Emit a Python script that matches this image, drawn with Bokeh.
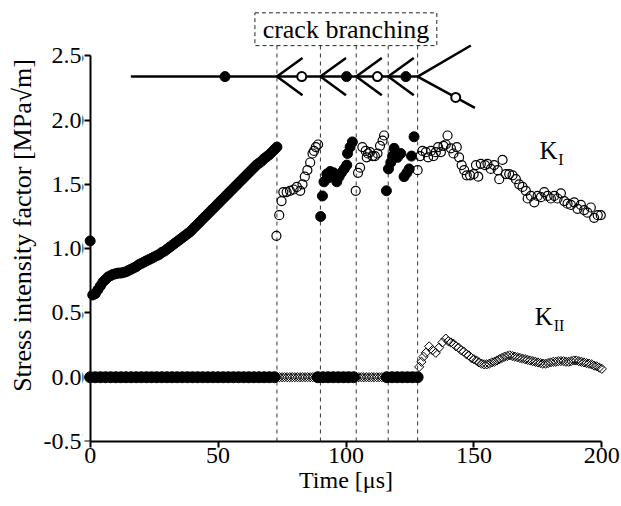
from bokeh.plotting import figure
from bokeh.models import Range1d, FixedTicker, NumeralTickFormatter, Label, LinearAxis
from bokeh.core.properties import value
from bokeh.embed import file_html
from bokeh.resources import INLINE

FONT = "Liberation Serif"

# ---------------- data ----------------
# K_I, filled phase before first branching (0-73 us)
ki_a_t = [0, 1, 2, 3, 4, 5, 6, 7, 8, 9, 10, 11, 12, 13, 14, 15, 16, 17, 18, 19,
          20, 21, 22, 23, 24, 25, 26, 27, 28, 29, 30, 31, 32, 33, 34, 35, 36, 37, 38, 39,
          40, 41, 42, 43, 44, 45, 46, 47, 48, 49, 50, 51, 52, 53, 54, 55, 56, 57, 58, 59,
          60, 61, 62, 63, 64, 65, 66, 67, 68, 69, 70, 71, 72, 73]
ki_a_v = [1.06, 0.64, 0.65, 0.68, 0.71, 0.74, 0.76, 0.78, 0.79, 0.80, 0.805, 0.81, 0.81, 0.815,
          0.82, 0.83, 0.84, 0.85, 0.86, 0.875, 0.885, 0.895, 0.905, 0.915, 0.925, 0.935, 0.945,
          0.955, 0.97, 0.98, 0.995, 1.01, 1.025, 1.04, 1.055, 1.07, 1.085, 1.10, 1.115, 1.13,
          1.15, 1.17, 1.19, 1.21, 1.23, 1.25, 1.27, 1.29, 1.31, 1.33, 1.35, 1.37, 1.39, 1.41,
          1.43, 1.45, 1.47, 1.49, 1.51, 1.53, 1.55, 1.57, 1.59, 1.61, 1.63, 1.65, 1.665, 1.68,
          1.70, 1.715, 1.73, 1.75, 1.77, 1.79]
# K_I, open phase 73-90
ki_b_t = [72.8, 73.9, 74.8, 75.5, 76.8, 78.1, 79.5, 80.8, 82.1, 83.0, 83.9, 84.9, 86.0, 86.9, 87.5, 88.2, 89.1]
ki_b_v = [1.10, 1.26, 1.37, 1.44, 1.44, 1.45, 1.46, 1.48, 1.45, 1.50, 1.56, 1.61, 1.67, 1.74, 1.76, 1.79, 1.81]
# K_I, filled phase 90-104
ki_c_t = [90.1, 90.8, 91.4, 92.5, 93.0, 93.8, 94.5, 95.1, 96.0, 96.4, 97.3, 98.2, 99.3, 100.3, 100.6, 101.6, 102.5]
ki_c_v = [1.25, 1.41, 1.52, 1.58, 1.55, 1.60, 1.57, 1.59, 1.55, 1.52, 1.56, 1.59, 1.62, 1.65, 1.74, 1.79, 1.83]
# K_I, open phase 104-116.5
ki_d_t = [103.8, 104.7, 105.5, 106.4, 107.7, 108.1, 108.6, 109.4, 110.4, 111.3, 112.3, 113.3, 114.3, 114.9]
ki_d_v = [1.45, 1.59, 1.63, 1.79, 1.76, 1.71, 1.74, 1.75, 1.72, 1.72, 1.74, 1.80, 1.84, 1.88]
# K_I, filled phase 116.5-128
ki_e_t = [115.8, 116.6, 117.5, 118.2, 118.8, 120.1, 121.4, 122.7, 123.8, 124.7, 125.6, 126.6]
ki_e_v = [1.45, 1.62, 1.67, 1.72, 1.78, 1.71, 1.74, 1.56, 1.59, 1.62, 1.72, 1.87]
# K_I, open phase after 128
ki_f_t = [128.0, 129.0, 129.9, 131.2, 132.1, 133.2, 134.2, 135.1, 136.0, 137.1, 138.1, 139.0, 139.7,
          141.0, 142.0, 143.3, 144.2, 145.2, 146.2, 147.2, 148.5, 149.9, 150.8, 151.7, 152.7, 154.3,
          155.3, 156.6, 157.9, 159.3, 159.9, 161.2, 162.5, 163.8, 165.1, 166.4, 167.7, 169.0, 170.3,
          171.0, 172.3, 173.6, 174.9, 176.2, 177.5, 178.8, 180.1, 181.4, 182.7, 184.0, 185.3, 186.6,
          187.9, 189.2, 190.5, 191.8, 193.1, 194.4, 195.7, 197.0, 198.4, 199.6]
ki_f_v = [1.61, 1.72, 1.76, 1.75, 1.71, 1.76, 1.72, 1.75, 1.79, 1.75, 1.80, 1.81, 1.88,
          1.78, 1.74, 1.79, 1.71, 1.65, 1.61, 1.57, 1.57, 1.58, 1.65, 1.56, 1.66, 1.65,
          1.66, 1.62, 1.65, 1.61, 1.54, 1.69, 1.58, 1.58, 1.57, 1.54, 1.50, 1.48, 1.45,
          1.39, 1.41, 1.36, 1.41, 1.40, 1.44, 1.41, 1.39, 1.41, 1.39, 1.43, 1.37, 1.35,
          1.34, 1.36, 1.31, 1.34, 1.30, 1.28, 1.32, 1.24, 1.26, 1.26]

# K_II, filled (zero) phases
kii_a_t = [0, 2, 4, 6, 8, 10, 12, 14, 16, 18, 20, 22, 24, 26, 28, 30, 32, 34, 36, 38, 40,
           42, 44, 46, 48, 50, 52, 54, 56, 58, 60, 62, 64, 66, 68, 70, 72,
           89, 91, 93, 95, 97, 99, 101, 103,
           116, 118, 120, 122, 124, 126, 128]
kii_a_v = [0, 0, 0, 0, 0, 0, 0, 0, 0, 0, 0, 0, 0, 0, 0, 0, 0, 0, 0, 0, 0,
           0, 0, 0, 0, 0, 0, 0, 0, 0, 0, 0, 0, 0, 0, 0, 0,
           0, 0, 0, 0, 0, 0, 0, 0,
           0, 0, 0, 0, 0, 0, 0]
# K_II, open (zero) phases
kii_b_t = [73, 74, 75, 76, 77, 78, 79, 80, 81, 82, 83, 84, 85, 86, 87, 88,
           104, 105, 106, 107, 108, 109, 110, 111, 112, 113, 114, 115]
kii_b_v = [0, 0, 0, 0, 0, 0, 0, 0, 0, 0, 0, 0, 0, 0, 0, 0,
           0, 0, 0, 0, 0, 0, 0, 0, 0, 0, 0, 0]
# K_II, open phase after 128
kii_c_t = [128.6, 129.5, 130.3, 131.2, 132.5, 133.8, 135.1, 136.4, 137.7, 139.0,
           140, 141, 142, 143, 144, 145, 146, 147, 148, 149, 150, 151, 152, 153, 154, 155,
           156, 157, 158, 159, 160, 161, 162, 163, 164, 165, 166, 167, 168, 169, 170, 171,
           172, 173, 174, 175, 176, 177, 178, 179, 180, 181, 182, 183, 184, 185, 186, 187,
           188, 189, 190, 191, 192, 193, 194, 195, 196, 197, 198, 199, 200]
kii_c_v = [0.08, 0.12, 0.16, 0.19, 0.24, 0.21, 0.19, 0.23, 0.27, 0.30,
           0.28, 0.27, 0.26, 0.24, 0.23, 0.21, 0.20, 0.18, 0.17, 0.15, 0.14, 0.13, 0.115, 0.105,
           0.10, 0.10, 0.105, 0.115, 0.12, 0.13, 0.14, 0.15, 0.16, 0.165, 0.17, 0.165, 0.16,
           0.155, 0.15, 0.145, 0.14, 0.135, 0.13, 0.125, 0.12, 0.115, 0.11, 0.105, 0.105, 0.11,
           0.115, 0.12, 0.12, 0.125, 0.125, 0.125, 0.12, 0.12, 0.125, 0.13, 0.13, 0.125, 0.12,
           0.115, 0.11, 0.105, 0.10, 0.09, 0.085, 0.075, 0.065]

# branching instants (us)
branch_t = [73, 90, 104, 116.5, 128]

# crack-path sketch (data coordinates of the schematic)
sketch_y = 2.338
sketch_start = 15.9
sketch_filled_t = [52.7, 100.2, 123.4]
sketch_open_t = [82.7, 112.3, 142.9]
sketch_open_v = [2.338, 2.338, 2.176]

x_ticks = [0, 50, 100, 150, 200]
y_ticks = [-0.5, 0.0, 0.5, 1.0, 1.5, 2.0, 2.5]

TICK_FS = "24px"

# ---------------- figure ----------------
p = figure(width=620, height=504, output_backend="svg", toolbar_location=None,
           x_range=Range1d(-3, 203), y_range=Range1d(-0.5, 2.86),
           min_border_left=82, min_border_right=11, min_border_top=9, min_border_bottom=63)
p.outline_line_color = None
p.xgrid.visible = False
p.ygrid.visible = False
p.background_fill_color = "white"

# dashed branching lines and box
p.segment(x0=branch_t, y0=[-0.5] * 5, x1=branch_t, y1=[2.579] * 5,
          line_dash="4 4", line_color="#333333", line_width=1)
p.quad(left=[64.4], right=[135.5], bottom=[2.579], top=[2.834], fill_color=None,
       line_color="#222222", line_dash="4 3", line_width=1)
p.text(x=[100], y=[2.706], text=["crack branching"], text_align="center",
       text_baseline="middle", text_font=value(FONT), text_font_size="26px", text_color="black")

# crack sketch
p.line([sketch_start, branch_t[-1]], [sketch_y, sketch_y], line_color="black", line_width=2.5)
arm_dt, arm_dv = 10.0, 0.145
xs = [[tb + arm_dt, tb, tb + arm_dt] for tb in branch_t[:4]]
ys = [[sketch_y + arm_dv, sketch_y, sketch_y - arm_dv] for _ in branch_t[:4]]
xs.append([148.8, branch_t[-1], 150.4])
ys.append([2.58, sketch_y, 2.095])
p.multi_line(xs, ys, line_color="black", line_width=2.5)
p.scatter(sketch_filled_t, [sketch_y] * 3, size=10, marker="circle", color="black")
p.scatter(sketch_open_t, sketch_open_v, size=9, marker="circle", fill_color="white",
          line_color="black", line_width=2)

# K_II
p.scatter(kii_a_t, kii_a_v, size=11, marker="circle", color="black")
p.scatter(kii_b_t, kii_b_v, size=6.5, marker="square", angle=0.785398, fill_alpha=0,
          line_color="black", line_width=1)
p.scatter(kii_c_t, kii_c_v, size=6.5, marker="square", angle=0.785398, fill_color="white",
          fill_alpha=0, line_color="black", line_width=1)

# K_I
p.scatter(ki_a_t + ki_c_t + ki_e_t, ki_a_v + ki_c_v + ki_e_v, size=10, marker="circle", color="black")
p.scatter(ki_b_t + ki_d_t + ki_f_t, ki_b_v + ki_d_v + ki_f_v, size=9, marker="circle",
          fill_alpha=0, line_color="black", line_width=1.2)

# K labels
for x, y, t, fs in [(175.6, 1.765, "K", "25px"), (183.0, 1.695, "I", "16px"),
                    (173.8, 0.47, "K", "25px"), (181.2, 0.40, "II", "16px")]:
    p.add_layout(Label(x=x, y=y, text=t, text_font=FONT, text_font_size=fs,
                       text_align="left", text_baseline="alphabetic", text_color="black"))

# axes
for ax in (p.xaxis, p.yaxis):
    ax.axis_line_width = 2
    ax.major_tick_line_width = 2
    ax.major_tick_out = 6
    ax.major_tick_in = 0
    ax.minor_tick_line_color = None
    ax.major_label_text_font = FONT
    ax.major_label_text_font_size = TICK_FS
    ax.major_label_text_color = "black"
    ax.major_label_standoff = 0
p.xaxis.ticker = FixedTicker(ticks=x_ticks)
p.xaxis.bounds = (0, 200)
p.xaxis.axis_label = "Time [μs]"
p.xaxis.axis_label_text_font = FONT
p.xaxis.axis_label_text_font_size = "24px"
p.xaxis.axis_label_text_font_style = "normal"
p.xaxis.axis_label_text_color = "black"
p.xaxis.axis_label_standoff = 1

# y axis line + ticks sit exactly at t = 0
p.yaxis.ticker = FixedTicker(ticks=y_ticks)
p.yaxis.bounds = (-0.5, 2.5)
p.yaxis.formatter = NumeralTickFormatter(format="0.0")
p.yaxis.fixed_location = 0

# a second left axis carries the tick labels and the title
lab_ax = LinearAxis(ticker=FixedTicker(ticks=y_ticks), formatter=NumeralTickFormatter(format="0.0"),
                    bounds=(-0.5, 2.5), axis_line_color=None, major_tick_line_color=None,
                    minor_tick_line_color=None, major_tick_out=0, major_tick_in=0,
                    major_label_standoff=1, major_label_text_font=FONT,
                    major_label_text_font_size=TICK_FS, major_label_text_color="black",
                    axis_label="Stress intensity factor [MPa√m]", axis_label_text_font=FONT,
                    axis_label_text_font_size="26px", axis_label_text_font_style="normal",
                    axis_label_text_color="black", axis_label_standoff=4)
p.add_layout(lab_ax, "left")

open("out.html", "w").write(file_html(p, INLINE))
